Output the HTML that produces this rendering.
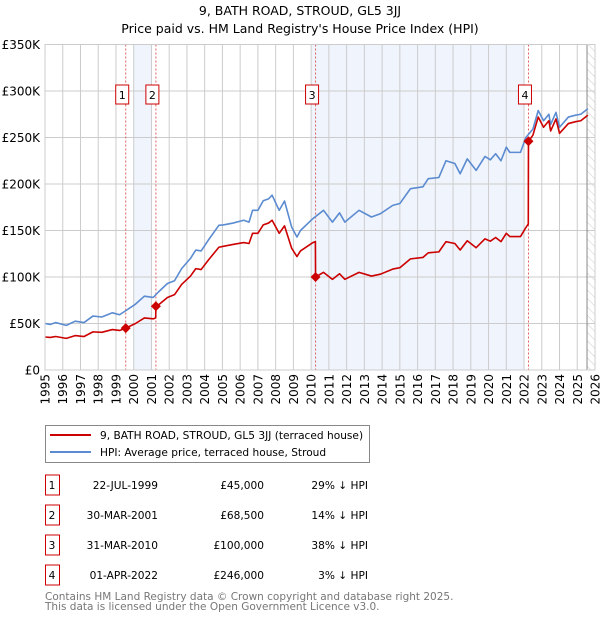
<!DOCTYPE html>
<html><head><meta charset="utf-8"><style>
body{margin:0;background:#fff;font-family:"DejaVu Sans","Liberation Sans",sans-serif;}
svg text{font-family:"DejaVu Sans","Liberation Sans",sans-serif;}
</style></head><body>
<svg id="chart" width="600" height="620" xmlns="http://www.w3.org/2000/svg">
<defs><pattern id="hatch" width="6" height="6" patternUnits="userSpaceOnUse" patternTransform="rotate(-45)"><line x1="0" y1="0" x2="0" y2="6" stroke="#ccc" stroke-width="1"/></pattern></defs>
<text x="300" y="15" text-anchor="middle" font-size="12.5">9, BATH ROAD, STROUD, GL5 3JJ</text>
<text x="300" y="33" text-anchor="middle" font-size="12.5">Price paid vs. HM Land Registry's House Price Index (HPI)</text>
<g id="plot"></g>
<g>
<rect x="45.5" y="425.5" width="324" height="37" fill="#fff" stroke="#888"/>
<line x1="50" y1="435" x2="91" y2="435" stroke="#cc0000" stroke-width="2"/>
<text x="100" y="439" font-size="10.6">9, BATH ROAD, STROUD, GL5 3JJ (terraced house)</text>
<line x1="50" y1="452" x2="91" y2="452" stroke="#5b8bd0" stroke-width="2"/>
<text x="100" y="456" font-size="10.6">HPI: Average price, terraced house, Stroud</text>
</g>
<g id="table"></g>
<text x="45" y="600" font-size="10.5" fill="#777">Contains HM Land Registry data © Crown copyright and database right 2025.</text>
<text x="45" y="610" font-size="10.5" fill="#777">This data is licensed under the Open Government Licence v3.0.</text>
</svg>
<script>
const hpiYears=[1995.0,1995.3,1995.6,1996.2,1996.7,1997.2,1997.7,1998.2,1998.8,1999.2,1999.6,2000.1,2000.6,2001.1,2001.4,2001.9,2002.3,2002.7,2003.2,2003.5,2003.8,2004.2,2004.8,2005.05,2005.6,2006.2,2006.5,2006.7,2007.0,2007.3,2007.6,2007.8,2008.2,2008.5,2008.9,2009.2,2009.4,2010.1,2010.7,2011.2,2011.6,2011.9,2012.7,2013.4,2013.9,2014.6,2015.0,2015.6,2016.3,2016.6,2017.2,2017.6,2018.1,2018.4,2018.8,2019.3,2019.8,2020.1,2020.4,2020.7,2021.0,2021.2,2021.8,2022.1,2022.5,2022.8,2023.1,2023.4,2023.5,2023.8,2024.0,2024.5,2024.9,2025.2,2025.6];
const hpiValues=[50,49,51,48,52.5,51,58,57,61.5,59.4,64.4,70.8,79.4,78,84,93,96,109,120,129,128,139.5,155.6,156,158,161,159,171.7,171.7,182,184,188,171.7,181.7,153.8,143,150,162.8,171.7,159,169,159,171.7,164.5,168,177,179,195,197,205.7,207,225,222,211,227,214.6,229.6,226,232.5,225,239.6,234,234,250,259,279,268,275,264,277,261,272,274,275,281];
const redYears=[1995.0,1995.3,1995.6,1996.2,1996.7,1997.2,1997.7,1998.2,1998.8,1999.2,1999.55,2000.1,2000.6,2001.1,2001.24,2001.25,2001.4,2001.9,2002.3,2002.7,2003.2,2003.5,2003.8,2004.2,2004.8,2005.05,2005.6,2006.2,2006.5,2006.7,2007.0,2007.3,2007.6,2007.8,2008.2,2008.5,2008.9,2009.2,2009.4,2010.1,2010.24,2010.25,2010.7,2011.2,2011.6,2011.9,2012.7,2013.4,2013.9,2014.6,2015.0,2015.6,2016.3,2016.6,2017.2,2017.6,2018.1,2018.4,2018.8,2019.3,2019.8,2020.1,2020.4,2020.7,2021.0,2021.2,2021.8,2022.1,2022.24,2022.25,2022.5,2022.8,2023.1,2023.4,2023.5,2023.8,2024.0,2024.5,2024.9,2025.2,2025.6];
const redValues=[35.5,35,36,34,37,36,41,40.5,43.5,42.5,45,50,56,55,56,68.5,70,78,81,92,101,109,108,118,132,133,135,137,136,147,147,156,158,161,147,155,131,122,128,137,138,100,105,97.5,103.5,97.5,105,101,103,108.5,110,119.5,121,126,127,138,136,129,139,131.5,141,138.5,142.5,138,147,143.5,143.5,153,157,246,252.5,272,261,268,257,270,254.5,265,267,268,274];
const saleLabels=["1","2","3","4"];
const saleYears=[1999.55,2001.25,2010.25,2022.25];
const saleValues=[45,68.5,100,246];
const saleDates=["22-JUL-1999","30-MAR-2001","31-MAR-2010","01-APR-2022"];
const salePrices=["£45,000","£68,500","£100,000","£246,000"];
const saleDiffs=["29% ↓ HPI","14% ↓ HPI","38% ↓ HPI","3% ↓ HPI"];
const yTicks=[0,50,100,150,200,250,300,350];
const yTickLabels=["£0","£50K","£100K","£150K","£200K","£250K","£300K","£350K"];
const xTicks=[1995,1996,1997,1998,1999,2000,2001,2002,2003,2004,2005,2006,2007,2008,2009,2010,2011,2012,2013,2014,2015,2016,2017,2018,2019,2020,2021,2022,2023,2024,2025,2026];
const shadeRanges=[[2000,2001],[2010,2022]];

const X0=45,X1=595,Y0=370,Y1=44.5;
const sx=y=>X0+(y-1995)/(2026-1995)*(X1-X0);
const sy=v=>Y0-v/350*(Y0-Y1);
const NS="http://www.w3.org/2000/svg";
const plot=document.getElementById('plot');
function mk(tag,attrs,parent){const e=document.createElementNS(NS,tag);for(const k in attrs)e.setAttribute(k,attrs[k]);(parent||plot).appendChild(e);return e;}

shadeRanges.forEach(r=>{const e=mk('rect',{x:sx(r[0]),y:Y1,width:sx(r[1])-sx(r[0]),height:Y0-Y1,fill:'#f0f4fd'});

});
const h=mk('rect',{x:sx(2025.55),y:Y1,width:X1-sx(2025.55),height:Y0-Y1,fill:'url(#hatch)'});


xTicks.forEach(t=>{const l=mk('line',{x1:sx(t),x2:sx(t),y1:Y1,y2:Y0,stroke:'#ccc','stroke-width':1});


const tx=mk('text',{x:0,y:0,'font-size':12,'text-anchor':'end',transform:`translate(${sx(t)+4.5},374) rotate(-90)`});
tx.textContent=t;

});
yTicks.forEach((t,i)=>{const l=mk('line',{x1:X0,x2:X1,y1:sy(t),y2:sy(t),stroke:'#ccc','stroke-width':1});


const tx=mk('text',{x:40,y:sy(t)+4.5,'font-size':12,'text-anchor':'end'});
tx.textContent=yTickLabels[i];

});
const vl=mk('line',{x1:sx(2025.55),x2:sx(2025.55),y1:Y1,y2:Y0,stroke:'#888','stroke-width':1});


saleYears.forEach((y,i)=>{const l=mk('line',{x1:sx(y),x2:sx(y),y1:Y1,y2:Y0,stroke:'#e06060','stroke-width':1,'stroke-dasharray':'2,2'});

});
function line(xs,vs,col,name){const p=mk('polyline',{points:xs.map((x,i)=>sx(x)+','+sy(vs[i])).join(' '),fill:'none',stroke:col,'stroke-width':1.6,'stroke-linejoin':'round'});

}
line(hpiYears,hpiValues,'#5b8bd0','hpi-line');
line(redYears,redValues,'#cc0000','price-paid-line');
saleYears.forEach((y,i)=>{const cx=sx(y),cy=sy(saleValues[i]);
const d=mk('path',{d:`M${cx},${cy-5}L${cx+5},${cy}L${cx},${cy+5}L${cx-5},${cy}Z`,fill:'#cc0000'});


const b=mk('rect',{x:cx-10,y:85,width:13,height:19,fill:'#fff',stroke:'#cc0000'});


const t=mk('text',{x:cx-3.5,y:99,'font-size':11,'text-anchor':'middle'});
t.textContent=saleLabels[i];

});
const border=mk('rect',{x:X0,y:Y1,width:X1-X0,height:Y0-Y1,fill:'none',stroke:'#ccc'});



const tb=document.getElementById('table');
saleLabels.forEach((s,i)=>{const y=485+i*30;
const r=mk('rect',{x:45.5,y:y-10,width:14,height:20,fill:'#fff',stroke:'#cc0000'},tb);


const cells=[[52,'middle',s,'row-number'],[158,'end',saleDates[i],'sale-date'],[264,'end',salePrices[i],'sale-price'],[368,'end',saleDiffs[i],'hpi-difference']];
cells.forEach(c=>{const t=mk('text',{x:c[0],y:y+4,'font-size':10.6,'text-anchor':c[1]},tb);
t.textContent=c[2];

});});
</script>
</body></html>
